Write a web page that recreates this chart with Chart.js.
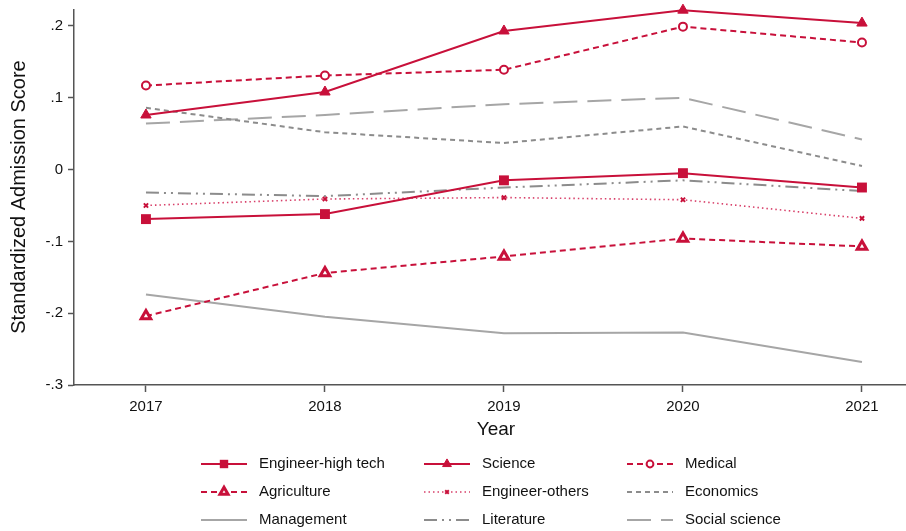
<!DOCTYPE html>
<html>
<head>
<meta charset="utf-8">
<script src="https://cdn.jsdelivr.net/npm/chart.js@4"></script>
<style>
  html, body { margin: 0; padding: 0; background: #fff; overflow: hidden; }
  #chart { display: block; }
</style>
</head>
<body>
<canvas id="chart" width="906" height="531" style="width:906px;height:531px"></canvas>
<script>
const years = [2017, 2018, 2019, 2020, 2021];
const yTickValues = [-0.3, -0.2, -0.1, 0, 0.1, 0.2];
const yTickLabels = ['-.3', '-.2', '-.1', '0', '.1', '.2'];

const engineerHighTech = [-0.069, -0.062, -0.015, -0.005, -0.025];
const science = [0.076, 0.108, 0.193, 0.222, 0.204];
const medical = [0.117, 0.131, 0.139, 0.199, 0.177];
const agriculture = [-0.204, -0.144, -0.121, -0.096, -0.107];
const engineerOthers = [-0.050, -0.041, -0.039, -0.042, -0.068];
const economics = [0.086, 0.052, 0.037, 0.060, 0.005];
const management = [-0.174, -0.205, -0.228, -0.227, -0.268];
const literature = [-0.032, -0.037, -0.025, -0.015, -0.030];
const socialScience = [0.064, 0.076, 0.091, 0.100, 0.042];

const RED = '#c8103a';
const PINK = '#d8406a';
const GRAY = '#a6a6a6';
const DARK_GRAY = '#8c8c8c';
const FONT = '"Liberation Sans", Arial, sans-serif';

function pts(values) {
    return values.map((v, i) => ({ x: years[i], y: v }));
}

function series(label, values, style) {
    return Object.assign({
        label,
        data: pts(values),
        borderWidth: 2,
        fill: false,
        tension: 0,
        pointRadius: 0,
        clip: false
    }, style);
}

const datasets = [
    series('Engineer-high tech', engineerHighTech, {
        borderColor: RED, backgroundColor: RED, pointStyle: 'rect', pointRadius: 7, pointBorderWidth: 0
    }),
    series('Science', science, {
        borderColor: RED, backgroundColor: RED, pointStyle: 'triangle', pointRadius: 6, pointBorderWidth: 1
    }),
    series('Medical', medical, {
        borderColor: RED, backgroundColor: '#fff', borderDash: [6, 4], pointStyle: 'circle', pointRadius: 4, pointBorderWidth: 2
    }),
    series('Agriculture', agriculture, {
        borderColor: RED, backgroundColor: '#fff', borderDash: [6, 4], pointStyle: 'triangle', pointRadius: 5.5, pointBorderWidth: 3
    }),
    series('Engineer-others', engineerOthers, {
        borderColor: PINK, backgroundColor: RED, borderWidth: 1.6, borderDash: [1.5, 3], pointStyle: 'crossRot', pointRadius: 3, pointBorderWidth: 2,
        pointBorderColor: RED
    }),
    series('Economics', economics, {
        borderColor: DARK_GRAY, borderDash: [5, 4]
    }),
    series('Management', management, {
        borderColor: GRAY
    }),
    series('Literature', literature, {
        borderColor: DARK_GRAY, borderDash: [13, 5, 2, 5, 2, 5]
    }),
    series('Social science', socialScience, {
        borderColor: GRAY, borderDash: [24, 10]
    })
];

// legend + axis titles drawn on the canvas
const decorations = {
    id: 'decorations',
    afterDraw(chart) {
        const ctx = chart.ctx;
        ctx.save();
        ctx.fillStyle = '#111';
        ctx.textBaseline = 'middle';

        ctx.font = '19px ' + FONT;
        ctx.textAlign = 'center';
        ctx.fillText('Year', 496, 430);

        ctx.save();
        ctx.translate(19, 197);
        ctx.rotate(-Math.PI / 2);
        ctx.font = '20px ' + FONT;
        ctx.fillText('Standardized Admission Score', 0, 0);
        ctx.restore();

        const colX = [201, 424, 627];
        const rowY = [464, 492, 520];
        const sampleW = 46;
        ctx.font = '15px ' + FONT;
        ctx.textAlign = 'left';
        chart.data.datasets.forEach((ds, i) => {
            const x = colX[i % 3];
            const y = rowY[Math.floor(i / 3)];
            ctx.save();
            ctx.strokeStyle = ds.borderColor;
            ctx.lineWidth = ds.borderWidth;
            ctx.setLineDash(ds.borderDash || []);
            ctx.beginPath();
            ctx.moveTo(x, y);
            ctx.lineTo(x + sampleW, y);
            ctx.stroke();
            ctx.restore();
            if (ds.pointRadius > 0) {
                ctx.save();
                ctx.fillStyle = ds.backgroundColor;
                ctx.strokeStyle = ds.pointBorderColor || ds.borderColor;
                ctx.lineWidth = ds.pointBorderWidth;
                ctx.setLineDash([]);
                Chart.helpers.drawPoint(ctx, {
                    pointStyle: ds.pointStyle,
                    radius: ds.pointRadius * 0.85,
                    rotation: 0,
                    borderWidth: ds.pointBorderWidth
                }, x + sampleW / 2, y);
                ctx.restore();
            }
            ctx.fillStyle = '#111';
            ctx.fillText(ds.label, x + sampleW + 12, y);
        });
        ctx.restore();
    }
};

new Chart(document.getElementById('chart'), {
    type: 'line',
    data: { datasets },
    plugins: [decorations],
    options: {
        responsive: false,
        animation: false,
        layout: { autoPadding: false, padding: { top: 10, right: 0, bottom: 100, left: 0 } },
        plugins: {
            legend: { display: false },
            tooltip: { enabled: false }
        },
        scales: {
            x: {
                type: 'linear',
                min: 2016.598,
                max: 2021.246,
                afterBuildTicks: (scale) => { scale.ticks = years.map((v) => ({ value: v })); },
                afterFit: (scale) => { scale.height = 46; scale.paddingLeft = 0; scale.paddingRight = 0; },
                grid: { drawOnChartArea: false, drawTicks: true, tickLength: 7, tickColor: '#555', tickWidth: 1.5 },
                border: { color: '#555', width: 1.5 },
                ticks: {
                    color: '#111',
                    padding: 6,
                    maxRotation: 0,
                    font: { family: FONT, size: 15 },
                    callback: (v) => String(v)
                }
            },
            y: {
                type: 'linear',
                min: -0.3,
                max: 0.2222,
                afterBuildTicks: (scale) => { scale.ticks = yTickValues.map((v) => ({ value: v })); },
                afterFit: (scale) => { scale.width = 74; scale.paddingTop = 0; scale.paddingBottom = 0; },
                grid: { drawOnChartArea: false, drawTicks: true, tickLength: 6, tickColor: '#555', tickWidth: 1.5 },
                border: { color: '#555', width: 1.5 },
                ticks: {
                    color: '#111',
                    padding: 5,
                    font: { family: FONT, size: 15 },
                    callback: (v) => {
                        const idx = yTickValues.findIndex((t) => Math.abs(t - v) < 1e-6);
                        return idx >= 0 ? yTickLabels[idx] : '';
                    }
                }
            }
        }
    }
});
</script>
</body>
</html>
